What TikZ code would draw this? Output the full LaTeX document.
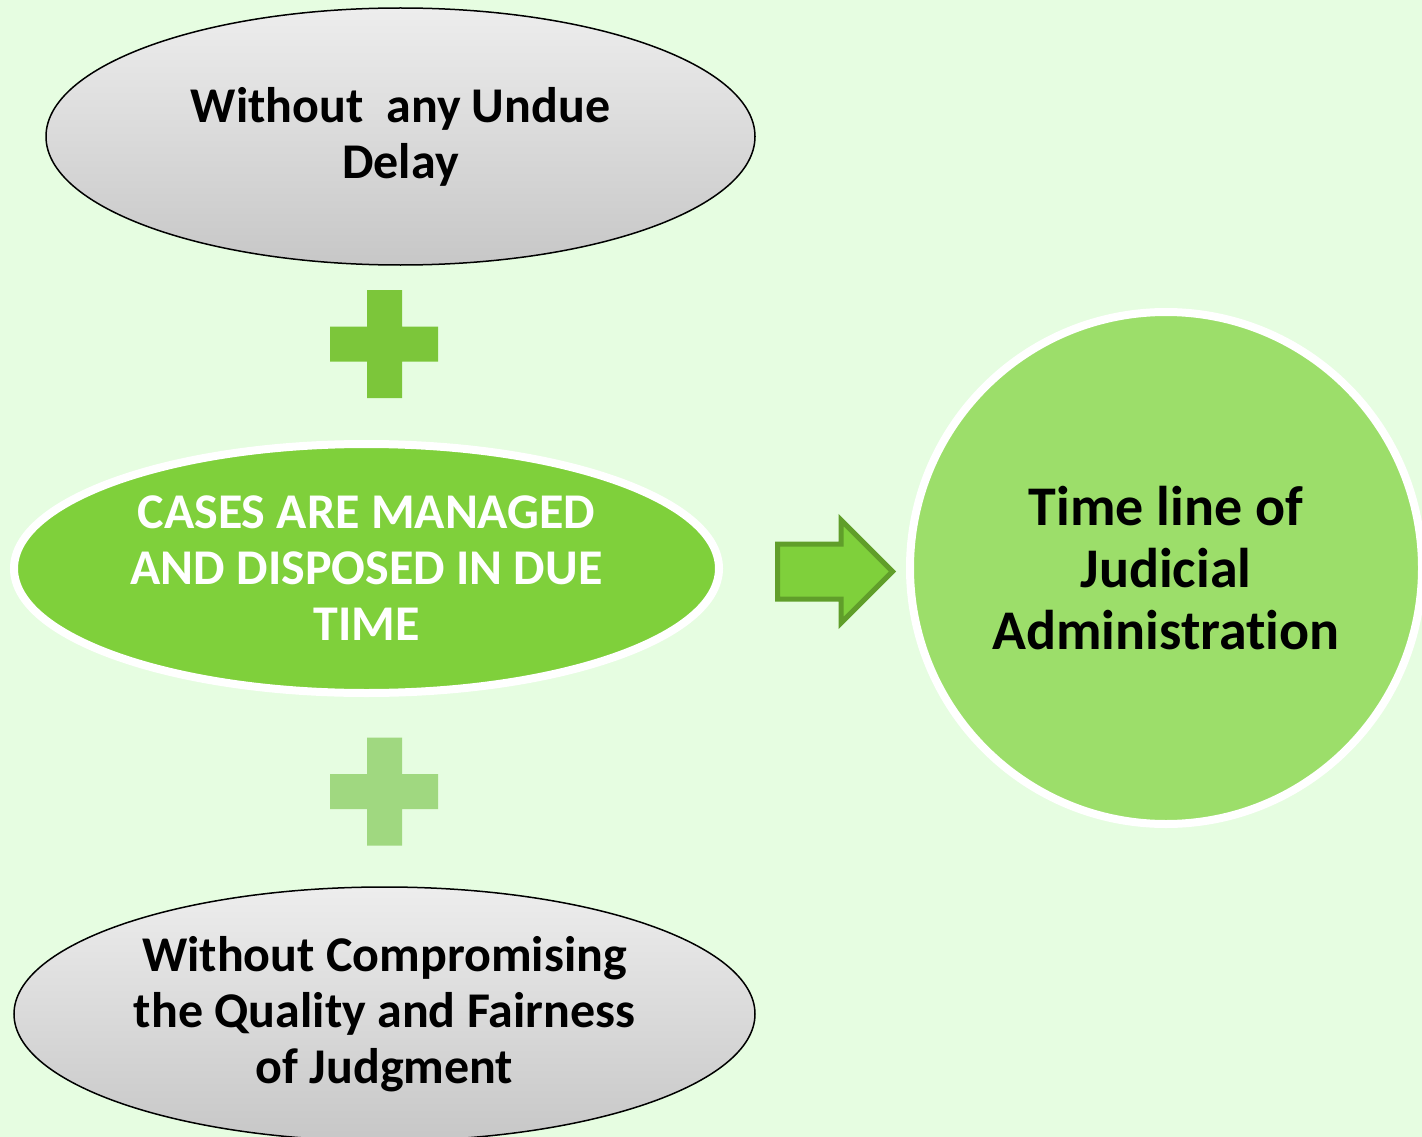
\documentclass[tikz,border=0pt]{standalone}
\usepackage{fontspec}
\setmainfont[Ligatures=NoCommon]{Carlito}
\usetikzlibrary{shapes.geometric, shapes.arrows}
\definecolor{mintbg}{RGB}{230,253,225}
\definecolor{leafgreen}{RGB}{127,208,59}
\definecolor{plusgreen}{RGB}{124,198,58}
\definecolor{softgreen}{RGB}{160,216,128}
\definecolor{circlegreen}{RGB}{156,222,106}
\definecolor{arrowedge}{RGB}{96,158,42}
\tikzstyle{greyoval} = [ellipse, draw=black, line width=1.5pt, top color=black!7, bottom color=black!22, inner sep=0pt, align=center, font=\fontsize{50}{56}\selectfont\bfseries]
\tikzstyle{greenoval} = [ellipse, draw=white, line width=8pt, fill=leafgreen, inner sep=0pt, align=center, text=white, font=\fontsize{50}{56}\selectfont\bfseries]
\tikzstyle{goal} = [circle, draw=white, line width=8pt, fill=circlegreen, inner sep=0pt, align=center, font=\fontsize{56}{62}\selectfont\bfseries]
\tikzstyle{fatarrow} = [single arrow, draw=arrowedge, line width=5pt, fill=leafgreen, inner xsep=0pt, inner ysep=25pt]

\begin{document}
\begin{tikzpicture}[x=1pt, y=-1pt]
    \fill[mintbg] (0,0) rectangle (1422,1137);
    \useasboundingbox (0,0) rectangle (1422,1137);

    \node (delay) [greyoval, minimum width=709pt, minimum height=257pt] at (400.5,136.5) {Without \ any Undue\\Delay};
    \node (cases) [greenoval, minimum width=705pt, minimum height=249pt] at (366.5,568.5) {CASES ARE MANAGED\\AND DISPOSED IN DUE\\TIME};
    \node (quality) [greyoval, minimum width=741pt, minimum height=254pt] at (384.5,1014) {Without Compromising\\the Quality and Fairness\\of Judgment};
    \node (timeline) [goal, minimum size=512pt] at (1166,568) {Time line of\\Judicial\\Administration};
    \node (arrow) [fatarrow, minimum height=115pt, single arrow head extend=24pt, anchor=west] at (775,571.5) {};

    % plus signs
    \foreach \cy/\col in {344/plusgreen, 791.5/softgreen}
        \fill[\col] (367,\cy-54) rectangle (402,\cy+54)
                    (330,\cy-17.5) rectangle (438,\cy+17.5);
\end{tikzpicture}
\end{document}
